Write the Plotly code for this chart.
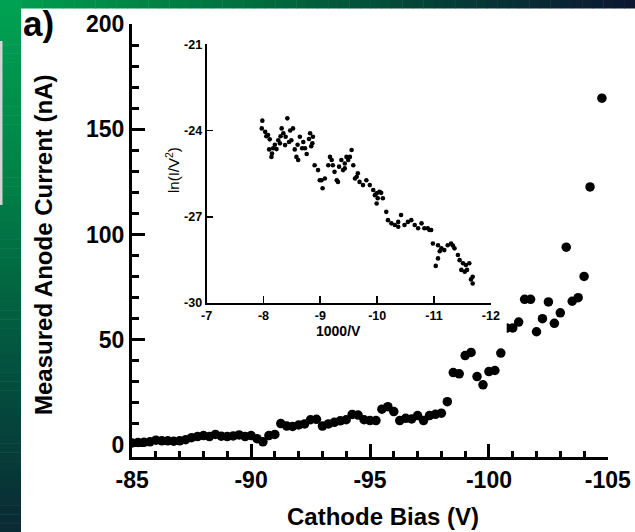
import plotly.graph_objects as go

# ---------------- data ----------------
bias_v = [-85.0, -85.25, -85.5, -85.75, -86.0, -86.25, -86.5, -86.75, -87.0, -87.25,
          -87.5, -87.75, -88.0, -88.25, -88.5, -88.75, -89.0, -89.25, -89.5, -89.75,
          -90.0, -90.25, -90.5, -90.75, -91.0, -91.25, -91.5, -91.75, -92.0, -92.25,
          -92.5, -92.75, -93.0, -93.25, -93.5, -93.75, -94.0, -94.25, -94.5, -94.75,
          -95.0, -95.25, -95.5, -95.75, -96.0, -96.25, -96.5, -96.75, -97.0, -97.25,
          -97.5, -97.75, -98.0, -98.25, -98.5, -98.75, -99.0, -99.25, -99.5, -99.75,
          -100.0, -100.25, -100.5, -100.75, -101.0, -101.25, -101.5, -101.75, -102.0, -102.25,
          -102.5, -102.75, -103.0, -103.25, -103.5, -103.75, -104.0, -104.25, -104.75]
current_na = [1.0, 1.2, 1.3, 1.5, 2.3, 2.0, 2.0, 1.8, 2.0, 2.5,
              3.5, 4.0, 4.5, 4.0, 5.0, 4.2, 4.0, 4.3, 4.8, 4.0,
              4.5, 3.0, 1.5, 4.5, 5.0, 10.2, 9.0, 8.8, 9.5, 10.0,
              12.0, 12.2, 9.0, 10.0, 10.8, 11.5, 12.0, 14.5, 14.2, 12.0,
              11.6, 11.6, 17.0, 18.2, 15.9, 11.6, 12.7, 12.4, 14.0, 11.6,
              14.0, 14.6, 15.1, 20.6, 34.4, 33.8, 42.5, 44.0, 32.5, 28.6,
              34.9, 35.4, 43.7, 55.6, 55.6, 58.4, 69.2, 69.2, 53.8, 60.0,
              68.0, 57.8, 62.8, 94.0, 68.3, 70.0, 80.1, 122.6, 164.8]

inv_v = [-7.98, -7.97, -8.03, -8.05, -8.08, -8.11, -8.10, -8.14, -8.15, -8.17, -8.20, -8.23,
         -8.26, -8.29, -8.30, -8.32, -8.35, -8.38, -8.39, -8.42, -8.45, -8.47, -8.49, -8.52,
         -8.55, -8.58, -8.60, -8.61, -8.64, -8.68, -8.70, -8.73, -8.76, -8.80, -8.82, -8.84,
         -8.86, -8.87, -8.90, -8.96, -8.99, -9.02, -9.04, -9.08, -9.14, -9.17, -9.20, -9.22,
         -9.25, -9.29, -9.31, -9.33, -9.37, -9.40, -9.43, -9.43, -9.46, -9.49, -9.52, -9.55,
         -9.58, -9.61, -9.64, -9.66, -9.69, -9.75, -9.81, -9.87, -9.93, -9.96, -9.99, -9.99,
         -10.01, -10.04, -10.07, -10.10, -10.16, -10.19, -10.25, -10.31, -10.37, -10.37, -10.42,
         -10.48, -10.54, -10.60, -10.66, -10.72, -10.78, -10.83, -10.89, -10.92, -10.95,
         -10.98, -11.03, -11.07, -11.07, -11.10, -11.13, -11.18, -11.24, -11.30, -11.33,
         -11.36, -11.42, -11.45, -11.48, -11.51, -11.54, -11.56, -11.58, -11.62, -11.65,
         -11.68, -11.68]
ln_iv2 = [-23.66, -23.93, -24.05, -24.20, -24.16, -24.31, -24.66, -24.92, -24.80, -24.62, -24.50, -24.65,
          -24.34, -24.45, -24.20, -23.93, -24.10, -24.51, -24.22, -23.58, -24.40, -24.00, -24.34, -23.93,
          -24.66, -24.92, -24.50, -25.03, -24.22, -24.62, -24.40, -24.62, -24.82, -24.30, -24.10, -24.55,
          -24.45, -24.22, -25.21, -25.38, -25.73, -25.73, -26.01, -25.67, -25.21, -24.92, -25.03, -25.21,
          -25.44, -25.73, -25.79, -25.26, -25.03, -25.38, -25.15, -25.32, -24.92, -25.03, -24.92, -24.68,
          -25.21, -25.67, -25.61, -25.49, -25.79, -25.90, -25.73, -25.90, -26.07, -26.25, -26.19, -26.54,
          -26.36, -26.13, -26.17, -26.36, -26.83, -27.12, -27.23, -27.29, -27.18, -27.35, -26.94,
          -27.29, -27.18, -27.12, -27.29, -27.40, -27.23, -27.40, -27.40, -27.46, -27.46,
          -27.93, -28.71, -27.99, -28.45, -28.20, -28.10, -28.16, -27.99, -27.93, -28.00,
          -28.10, -28.33, -28.51, -28.85, -28.62, -28.91, -28.68, -28.85, -28.62, -29.18,
          -29.09, -29.32]

main_x_ticks = [-85, -90, -95, -100, -105]
main_y_ticks = [0, 50, 100, 150, 200]
inset_x_ticks = [-7, -8, -9, -10, -11, -12]
inset_y_ticks = [-21, -24, -27, -30]

# ---------------- layout helpers ----------------
W, H = 635, 532
def px(x):
    return x / W
def py(y):
    return 1 - y / H

FONT = "Liberation Sans, Arial, sans-serif"

fig = go.Figure()
fig.add_trace(go.Scatter(x=bias_v, y=current_na, mode="markers",
                         marker=dict(size=9.5, color="black"),
                         xaxis="x", yaxis="y", showlegend=False))
fig.add_trace(go.Scatter(x=inv_v, y=ln_iv2, mode="markers",
                         marker=dict(size=4.6, color="black"),
                         xaxis="x2", yaxis="y2", showlegend=False))

shapes = []
# small white patch: the inset's background clips the main data beneath it
shapes.append(dict(type="rect", xref="paper", yref="paper", layer="above",
                   x0=px(496), x1=px(506.7), y0=py(338), y1=py(322),
                   fillcolor="white", line=dict(width=0)))

def lerp(c1, c2, t):
    return tuple(int(round(a + (b - a) * t)) for a, b in zip(c1, c2))

def grad(stops, t):
    for (t0, c0), (t1, c1) in zip(stops, stops[1:]):
        if t <= t1:
            return lerp(c0, c1, (t - t0) / (t1 - t0) if t1 > t0 else 0)
    return stops[-1][1]

top_stops = [(0.0, (0, 160, 80)), (0.4, (0, 110, 62)), (0.7, (4, 62, 55)), (1.0, (12, 22, 50))]
left_stops = [(0.0, (0, 162, 82)), (0.35, (0, 128, 70)), (0.7, (3, 80, 62)), (1.0, (10, 42, 52))]
N = 60
for i in range(N):
    c = grad(top_stops, (i + 0.5) / N)
    shapes.append(dict(type="rect", xref="paper", yref="paper", layer="below",
                       x0=px(W * i / N), x1=min(1, px(W * (i + 1) / N + 0.5)), y0=py(8.5), y1=1,
                       fillcolor="rgb(%d,%d,%d)" % c, line=dict(width=0)))
for i in range(N):
    c = grad(left_stops, (i + 0.5) / N)
    shapes.append(dict(type="rect", xref="paper", yref="paper", layer="below",
                       x0=0, x1=px(21), y0=max(0, py(H * (i + 1) / N + 0.5)), y1=py(H * i / N),
                       fillcolor="rgb(%d,%d,%d)" % c, line=dict(width=0)))
shapes.append(dict(type="rect", xref="paper", yref="paper", layer="below",
                   x0=0, x1=px(2.5), y0=py(205), y1=py(41),
                   fillcolor="#d4d4d4", line=dict(width=0)))

annotations = [
    dict(text="Cathode Bias (V)", x=px(383), y=py(516), xref="paper", yref="paper",
         showarrow=False, xanchor="center", yanchor="middle",
         font=dict(family=FONT, size=24, color="black", weight="bold")),
    dict(text="Measured Anode Current (nA)", x=px(43), y=py(245), xref="paper", yref="paper",
         showarrow=False, xanchor="center", yanchor="middle", textangle=-90,
         font=dict(family=FONT, size=24, color="black", weight="bold")),
    dict(text="1000/V", x=px(338), y=py(331), xref="paper", yref="paper",
         showarrow=False, xanchor="center", yanchor="middle",
         font=dict(family=FONT, size=14, color="black", weight="bold")),
    dict(text="ln(I/V<sup>2</sup>)", x=px(172), y=py(170), xref="paper", yref="paper",
         showarrow=False, xanchor="center", yanchor="middle", textangle=-90,
         font=dict(family=FONT, size=15, color="black")),
    dict(text="a)", x=px(21), y=py(23), xref="paper", yref="paper",
         showarrow=False, xanchor="left", yanchor="middle",
         font=dict(family=FONT, size=35, color="black", weight="bold")),
]

main_axis_common = dict(showline=True, linecolor="black", linewidth=3, ticks="inside",
                        tickcolor="black", tickwidth=3, showgrid=False, zeroline=False,
                        automargin=False,
                        tickfont=dict(family=FONT, size=23, color="black", weight="bold"))
inset_axis_common = dict(showline=True, linecolor="black", linewidth=1.8, ticks="inside",
                         tickcolor="black", tickwidth=1.8, showgrid=False, zeroline=False,
                         automargin=False,
                         tickfont=dict(family=FONT, size=12.5, color="black", weight="bold"))

fig.update_layout(
    width=W, height=H, autosize=False,
    margin=dict(l=0, r=0, t=0, b=0, pad=0, autoexpand=False),
    paper_bgcolor="white", plot_bgcolor="rgba(0,0,0,0)",
    xaxis=dict(domain=[px(132), px(608)], range=[-84.995, -105.005], anchor="y",
               tickvals=main_x_ticks, ticktext=[str(v) for v in main_x_ticks], ticklen=13,
               minor=dict(ticks="inside", dtick=1, ticklen=6, tickwidth=3, tickcolor="black"),
               **main_axis_common),
    yaxis=dict(domain=[py(457), py(24)], range=[-5.7, 200.02], anchor="x",
               tickvals=main_y_ticks, ticktext=[str(v) for v in main_y_ticks], ticklen=13,
               minor=dict(ticks="inside", dtick=10, ticklen=7, tickwidth=3, tickcolor="black"),
               **main_axis_common),
    xaxis2=dict(domain=[px(206.5), px(491)], range=[-6.998, -12.002], anchor="y2",
                tickvals=inset_x_ticks, ticktext=[str(v) for v in inset_x_ticks],
                ticklen=7, **inset_axis_common),
    yaxis2=dict(domain=[py(303), py(44)], range=[-30.0, -20.995], anchor="x2",
                tickvals=inset_y_ticks, ticktext=[str(v) for v in inset_y_ticks],
                ticklen=6, **inset_axis_common),
    shapes=shapes, annotations=annotations,
)

fig.write_html("out.html", config={"displayModeBar": False, "staticPlot": True},
               post_script="document.body.style.margin='0';document.body.style.overflow='hidden';")
